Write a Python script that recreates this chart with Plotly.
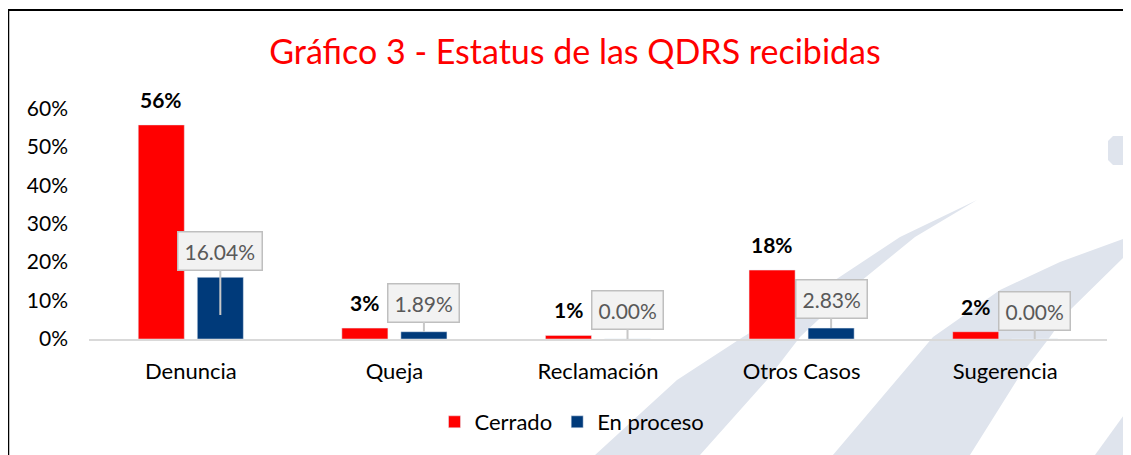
import plotly.graph_objects as go

# ---- data ----
categories = ["Denuncia", "Queja", "Reclamación", "Otros Casos", "Sugerencia"]
cerrado = [0.5566, 0.0283, 0.0094, 0.1792, 0.0189]
en_proceso = [0.1604, 0.0189, 0.0000, 0.0283, 0.0000]
y_ticks = [0, 0.1, 0.2, 0.3, 0.4, 0.5, 0.6]
title_text = "Gráfico 3 - Estatus de las QDRS recibidas"

# ---- style / layout constants ----
FONT = "Lato, 'Open Sans', sans-serif"
RED = "#ff0000"
BLUE = "#003a7a"
PAGE = 8  # html body margin offset (screen px -> figure px)
W_PX, H_PX = 1131, 455
L, T = 89 - PAGE, 89 - PAGE
PW, PH = 1018, 250
R, B = W_PX - L - PW, H_PX - T - PH
BARGAP, GROUPGAP = 0.42, 0.22
OFF = (1 - BARGAP) / 4
# callout: fraction of bar height where the pointer tip lands, and box offset (px)
callout_tip_frac = [0.39, 1, 1, 1, 1]
callout_ay = [-64, -29, -29, -29, -28]
WM = "#dfe4ed"


def to_paper(px, py):
    """screen pixel -> paper coords"""
    fx, fy = px - PAGE, py - PAGE
    return (fx - L) / PW, (T + PH - fy) / PH


def poly(points):
    pts = [to_paper(x, y) for x, y in points]
    return "M " + " L ".join(f"{x:.4f},{y:.4f}" for x, y in pts) + " Z"


fig = go.Figure()
fig.add_trace(go.Bar(name="Cerrado", x=categories, y=cerrado, marker_color=RED))
fig.add_trace(go.Bar(name="En proceso", x=categories, y=en_proceso, marker_color=BLUE))

annotations = []
for i, v in enumerate(cerrado):
    annotations.append(dict(
        x=i - OFF, y=v, xref="x", yref="y", text=f"<b>{v*100:.0f}%</b>",
        showarrow=False, yanchor="bottom", yshift=11,
        font=dict(family=FONT, size=21, color="#000000")))
for i, v in enumerate(en_proceso):
    annotations.append(dict(
        x=i + OFF, y=v * callout_tip_frac[i], xref="x", yref="y",
        text=f"{v*100:.2f}%", showarrow=True, arrowhead=0, arrowwidth=2,
        arrowcolor="#c8c8c8", ax=0, ay=callout_ay[i],
        bgcolor="#f2f2f2", bordercolor="#bfbfbf", borderwidth=1.5, borderpad=6,
        font=dict(family=FONT, size=21, color="#595959")))

# background watermark (decorative) and frame
shapes = [
    dict(type="path", xref="paper", yref="paper", layer="below", line_width=0, fillcolor=WM,
         path=poly([(977, 200), (900, 237), (820, 290), (743, 337), (677, 380), (595, 455),
                    (700, 455), (767, 380), (800, 337), (850, 290), (915, 237)])),
    dict(type="path", xref="paper", yref="paper", layer="below", line_width=0, fillcolor=WM,
         path=poly([(1131, 236), (1060, 262), (1000, 290), (933, 337), (833, 455),
                    (970, 455), (1017, 380), (1050, 337), (1067, 313), (1131, 250)])),
    dict(type="path", xref="paper", yref="paper", layer="below", line_width=0, fillcolor=WM,
         path=poly([(1095, 455), (1131, 405), (1131, 455)])),
    dict(type="path", xref="paper", yref="paper", layer="below", line_width=0, fillcolor=WM,
         path=poly([(1113, 136), (1131, 136), (1131, 165), (1113, 165), (1108, 160), (1108, 141)])),
    dict(type="line", xref="paper", yref="paper", line=dict(color="#000000", width=2.5),
         x0=to_paper(8, 10)[0], y0=to_paper(8, 10)[1], x1=to_paper(8, 470)[0], y1=to_paper(8, 470)[1]),
    dict(type="line", xref="paper", yref="paper", line=dict(color="#000000", width=2),
         x0=to_paper(8, 10)[0], y0=to_paper(8, 10)[1], x1=to_paper(1140, 10)[0], y1=to_paper(1140, 10)[1]),
]

fig.update_layout(
    width=W_PX, height=H_PX,
    margin=dict(l=L, r=R, t=T, b=B, pad=0),
    paper_bgcolor="white", plot_bgcolor="rgba(0,0,0,0)",
    barmode="group", bargap=BARGAP, bargroupgap=GROUPGAP,
    title=dict(text=title_text, x=(575 - PAGE) / W_PX, xanchor="center", y=1 - (52 - PAGE) / H_PX,
               yanchor="middle", yref="container",
               font=dict(family=FONT, size=34, color=RED)),
    font=dict(family=FONT, color="#000000"),
    legend=dict(orientation="h", x=(572 - PAGE - L) / PW, xanchor="center",
                y=(T + PH - (422 - PAGE)) / PH, yanchor="middle",
                font=dict(family=FONT, size=22, color="#000000"),
                itemwidth=30, bgcolor="rgba(0,0,0,0)"),
    annotations=annotations,
    shapes=shapes,
    showlegend=True,
)
fig.update_xaxes(showline=True, linecolor="#d9d9d9", linewidth=1.5, showgrid=False,
                 ticks="", tickfont=dict(family=FONT, size=22, color="#000000"),
                 ticklabelstandoff=12, fixedrange=True)
fig.update_yaxes(range=[0, 0.65], tickvals=y_ticks, tickformat=".0%", showgrid=False,
                 zeroline=False, showline=False, ticks="",
                 tickfont=dict(family=FONT, size=21, color="#000000"),
                 ticklabelstandoff=20, fixedrange=True)

fig.write_html("out.html")
